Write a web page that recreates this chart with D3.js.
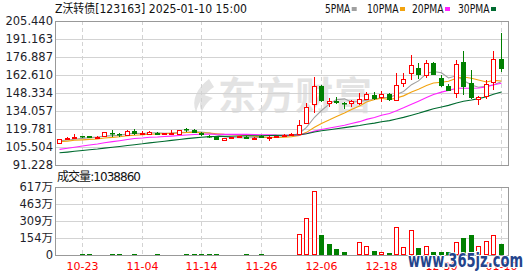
<html>
<head>
<meta charset="utf-8">
<title>Z沃转债 K线</title>
<script src="https://d3js.org/d3.v7.min.js"></script>
<style>
  body { margin: 0; background: #fff; }
  text { font-family: "DejaVu Sans", "Noto Sans CJK SC", sans-serif; }
</style>
</head>
<body>
<svg width="530" height="276"></svg>
<script>
// trading days shown
var dates = ["10-18","10-21","10-22","10-23","10-24","10-25","10-28","10-29","10-30","10-31",
  "11-01","11-04","11-05","11-06","11-07","11-08","11-11","11-12","11-13","11-14",
  "11-15","11-18","11-19","11-20","11-21","11-22","11-25","11-26","11-27","11-28",
  "11-29","12-02","12-03","12-04","12-05","12-06","12-09","12-10","12-11","12-12",
  "12-13","12-16","12-17","12-18","12-19","12-20","12-23","12-24","12-25","12-26",
  "12-27","12-30","12-31","01-02","01-03","01-06","01-07","01-08","01-09","01-10"];

var open  = [108.9,112.3,112.9,113.9,114.5,113.2,114.4,116.9,115.8,115.0,
  118.2,116.2,115.8,116.9,116.1,116.3,115.8,119.5,118.6,116.9,
  114.4,113.2,111.1,112.9,113.2,113.7,112.1,114.5,112.6,113.5,
  114.5,114.9,115.8,124.5,139.4,154.1,140.2,142.2,140.5,140.2,
  140.2,143.3,146.8,144.9,147.5,142.8,156.0,163.9,168.4,162.6,
  171.9,160.0,154.1,148.6,173.2,156.5,143.6,146.2,157.3,175.3];
var high  = [112.1,113.7,115.8,114.5,114.6,114.1,117.5,118.9,116.9,118.6,
  119.5,118.0,117.9,117.2,117.0,119.0,119.3,120.9,119.5,117.5,
  114.8,113.3,113.0,113.6,114.5,114.0,113.3,114.7,114.2,114.5,
  115.8,116.3,126.8,140.6,160.8,154.6,144.1,144.9,141.4,142.8,
  148.1,149.1,149.4,150.2,148.6,163.9,164.4,178.5,172.4,174.5,
  173.2,162.6,155.5,174.5,181.9,166.6,145.6,158.6,181.6,196.2];
var low   = [108.6,112.0,112.8,112.9,112.8,113.0,114.0,113.5,113.5,114.7,
  115.0,115.4,115.6,114.8,115.6,115.0,115.5,117.2,116.8,114.5,
  112.9,110.8,109.9,112.6,113.0,111.8,111.9,112.6,110.2,113.2,
  114.2,114.6,115.0,123.8,132.2,141.5,137.5,139.6,135.6,137.0,
  139.2,142.5,142.5,141.4,141.8,142.0,153.3,158.6,159.2,160.0,
  162.3,153.3,149.9,144.1,146.5,143.8,138.8,143.6,150.7,165.2];
var close = [111.8,113.0,113.7,113.4,112.9,113.6,117.2,115.6,114.7,118.4,
  115.8,116.7,117.7,115.0,116.4,116.9,119.0,118.9,117.0,114.8,
  113.2,111.1,112.6,113.2,114.0,112.1,113.0,112.9,113.6,114.2,
  115.3,116.0,123.0,137.0,154.1,142.2,142.0,140.2,140.0,142.0,
  143.6,147.3,143.3,147.5,142.8,154.7,159.2,170.5,162.6,171.9,
  162.6,154.1,150.2,171.3,153.3,144.1,145.4,155.2,175.1,167.4];
var volume = [62000,48000,55000,41000,47000,30000,66000,58000,39000,61000,
  52000,35000,44000,40000,28000,37000,57000,49000,38000,45000,
  42000,50000,46000,31000,36000,40000,29000,43000,60000,39000,
  52000,90000,1900000,3330000,5810000,1810000,1000000,540000,270000,90000,
  1150000,820000,390000,270000,180000,2510000,720000,2270000,650000,820000,
  300000,300000,300000,1150000,1570000,1810000,820000,1270000,1810000,1038860];

// closes before 10-18, only used to warm up the moving averages
var prevClose = [95.8,95.6,95.3,95.1,95.0,95.2,95.4,95.6,95.9,96.1,
  95.9,95.7,95.8,96.2,97.0,97.6,98.4,99.1,99.8,99.5,
  108.5,107.0,109.8,109.2,110.3,110.0,110.5,109.9,110.0];

var priceTicks = [91.228,105.504,119.781,134.057,148.334,162.610,176.887,191.163,205.440];
var priceLabels = ["91.228","105.504","119.781","134.057","148.334","162.610","176.887","191.163","205.440"];
var volTicks = [0,1542500,3085000,4627500,6170000];
var volLabels = ["0","154万","309万","463万","617万"];
var dateTicks = ["10-23","11-04","11-14","11-26","12-06","12-18","12-30","01-10"];

var maDays = [5,10,20,30];
var maNames = ["5PMA","10PMA","20PMA","30PMA"];
var maColors = ["#a0a0a0","#f2a30f","#ff22ff","#006b30"];

var UP = "#ff0000", DOWN = "#008000", GRID = "#d3d3d3", BORDER = "#999";

var left = 56, right = 509;
var pTop = 21, pBot = 165, vTop = 187, vBot = 255;

var svg = d3.select("svg");

var x = d3.scaleBand().domain(d3.range(dates.length)).range([left, 505]);
var cx = function(i){ return Math.floor(x(i) + x.bandwidth()/2); };
var y = d3.scaleLinear().domain([91.228, 205.440]).range([pBot, pTop]);
var yv = d3.scaleLinear().domain([0, 6170000]).range([vBot, vTop]);

// watermark
var wm = svg.append("g").attr("fill", "#e3e3e3");
wm.append("path").attr("d", "M209,79 C197,88 191,100 196,112 C199,101 205,93 214,87 Z M204,95 C199,101 199,107 202,112 C204,106 208,101 213,98 Z");
wm.append("text").attr("x", 218).attr("y", 109).attr("font-size", 38).attr("font-weight", 700)
  .attr("font-family", "Noto Sans CJK SC").attr("textLength", 154).text("东方财富");

// grids
function grid(top, bot, ticks, scale){
  svg.append("g").selectAll("line").data(ticks).join("line")
    .attr("x1", left).attr("x2", right)
    .attr("y1", d => Math.round(scale(d)) + 0.5).attr("y2", d => Math.round(scale(d)) + 0.5)
    .attr("stroke", GRID);
  svg.append("g").selectAll("line").data(dateTicks).join("line")
    .attr("x1", d => cx(dates.indexOf(d)) + 0.5).attr("x2", d => cx(dates.indexOf(d)) + 0.5)
    .attr("y1", top).attr("y2", bot)
    .attr("stroke", GRID).attr("stroke-dasharray", "4,3");
  svg.append("rect").attr("x", left - 0.5).attr("y", top + 0.5)
    .attr("width", right - left).attr("height", bot - top)
    .attr("fill", "none").attr("stroke", BORDER);
}
grid(pTop, pBot, priceTicks.slice(1, -1), y);
grid(vTop, vBot, volTicks.slice(1, -1), yv);

// moving averages
var allClose = prevClose.concat(close);
var off = prevClose.length;
maDays.forEach(function(n, k){
  var ma = close.map(function(c, i){
    return d3.mean(allClose.slice(i + off - n + 1, i + off + 1));
  });
  svg.append("path").datum(ma)
    .attr("fill", "none").attr("stroke", maColors[k]).attr("stroke-width", 1.1)
    .attr("d", d3.line().x((d, i) => cx(i) + 0.5).y(d => y(d)));
});

// candles
var cg = svg.append("g");
close.forEach(function(c, i){
  var px = cx(i), o = open[i];
  var t = Math.round(y(Math.max(o, c))), b = Math.round(y(Math.min(o, c)));
  var hy = Math.round(y(high[i])), ly = Math.round(y(low[i]));
  if (c >= o) {
    cg.append("line").attr("x1", px + 0.5).attr("x2", px + 0.5).attr("y1", hy).attr("y2", t).attr("stroke", UP);
    cg.append("line").attr("x1", px + 0.5).attr("x2", px + 0.5).attr("y1", b).attr("y2", ly).attr("stroke", UP);
    cg.append("rect").attr("x", px - 1.5).attr("y", t + 0.5).attr("width", 4).attr("height", Math.max(b - t, 1))
      .attr("fill", "#fff").attr("stroke", UP);
  } else {
    cg.append("line").attr("x1", px + 0.5).attr("x2", px + 0.5).attr("y1", hy).attr("y2", ly).attr("stroke", DOWN);
    cg.append("rect").attr("x", px - 2).attr("y", t).attr("width", 5).attr("height", Math.max(b - t, 1.5))
      .attr("fill", DOWN);
  }
});

// volume
var vg = svg.append("g");
volume.forEach(function(v, i){
  var px = cx(i);
  var upDay = i == 0 ? close[i] >= open[i] : close[i] >= close[i - 1];
  var top = Math.round(yv(v));
  var h = Math.max(vBot - top, 1);
  if (upDay) {
    vg.append("rect").attr("x", px - 1.5).attr("y", vBot - h + 0.5).attr("width", 4).attr("height", h - 0.5 > 0.5 ? h - 1 : 0)
      .attr("fill", "#fff").attr("stroke", UP);
  } else {
    vg.append("rect").attr("x", px - 2).attr("y", vBot - h).attr("width", 5).attr("height", h)
      .attr("fill", DOWN);
  }
});

// axis labels
svg.append("g").selectAll("text").data(priceTicks).join("text")
  .attr("x", 53).attr("y", d => y(d) + 4).attr("text-anchor", "end")
  .attr("font-size", 11.5).attr("fill", "#1e1e2a")
  .text((d, i) => priceLabels[i]);
svg.append("g").selectAll("text").data(volTicks).join("text")
  .attr("x", 53).attr("y", d => yv(d) + 4).attr("text-anchor", "end")
  .attr("font-size", 11.5).attr("fill", "#1e1e2a")
  .text((d, i) => volLabels[i]);
svg.append("g").selectAll("text").data(dateTicks).join("text")
  .attr("x", d => cx(dates.indexOf(d)) + 0.5).attr("y", 270).attr("text-anchor", "middle")
  .attr("font-size", 11).attr("fill", "#f00")
  .text(d => d);

// title and legend
svg.append("text").attr("x", 55).attr("y", 13).attr("font-size", 12)
  .attr("font-family", "Liberation Mono, Noto Sans CJK SC").attr("fill", "#111")
  .attr("textLength", 192).attr("lengthAdjust", "spacingAndGlyphs")
  .text("Z沃转债[123163] 2025-01-10 15:00");

var legX = [325, 367, 412, 458];
maNames.forEach(function(name, k){
  var t = svg.append("text").attr("x", legX[k]).attr("y", 13).attr("font-size", 12)
    .attr("font-family", "Liberation Mono").attr("fill", "#111")
    .attr("textLength", name.length * 6.3).attr("lengthAdjust", "spacingAndGlyphs").text(name);
  svg.append("rect").attr("x", legX[k] + name.length * 6.3 + 1.5).attr("y", 7)
    .attr("width", 5).attr("height", 4).attr("fill", maColors[k]);
});

svg.append("text").attr("x", 57).attr("y", 181).attr("font-size", 12).attr("fill", "#111")
  .attr("textLength", 84).text("成交量:" + volume[volume.length - 1]);

// site watermark
svg.append("text").attr("x", 408).attr("y", 267).attr("font-size", 19).attr("font-weight", 700)
  .attr("font-family", "Liberation Serif").attr("fill", "#24448c")
  .attr("stroke", "#fff").attr("stroke-width", 2).attr("paint-order", "stroke")
  .attr("textLength", 115).attr("lengthAdjust", "spacingAndGlyphs")
  .text("www.365jz.com");
</script>
</body>
</html>
